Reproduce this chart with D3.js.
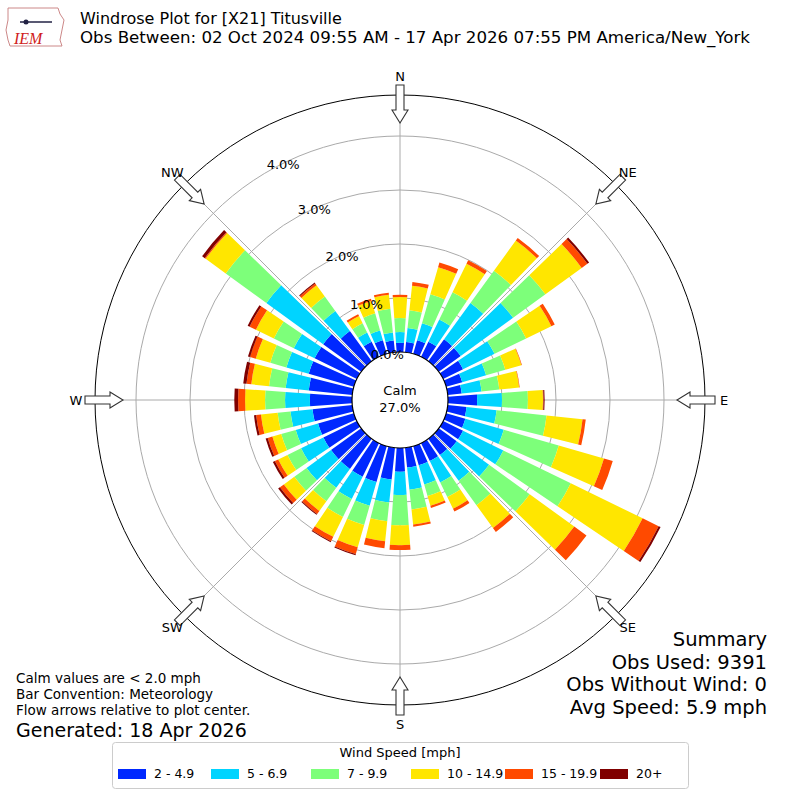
<!DOCTYPE html>
<html><head><meta charset="utf-8">
<script src="https://cdn.jsdelivr.net/npm/d3@7"></script>
<style>body{margin:0;background:#fff}svg{font-family:"DejaVu Sans",sans-serif}</style>
</head><body><svg id="c" width="800" height="800"></svg>
<script>
const directions = d3.range(0, 360, 10);
const speedBins = ["2 - 4.9","5 - 6.9","7 - 9.9","10 - 14.9","15 - 19.9","20+"];
const binColors = ["#0028ff","#00d4ff","#7dff7a","#ffe600","#ff4a00","#800000"];
// percent per speed bin, one row per direction (0,10,...,350)
const b1 = [0.17,0.19,0.26,0.31,0.50,0.50,0.41,0.31,0.26,0.54,0.35,0.37,0.41,0.41,0.37,0.37,0.37,0.37,0.44,0.59,0.69,0.69,0.69,0.69,0.69,0.69,0.74,0.78,0.81,0.87,0.87,0.87,0.69,0.31,0.26,0.22];
const b2 = [0.20,0.26,0.33,0.46,0.83,1.20,0.65,0.46,0.37,0.46,0.56,0.74,0.83,0.74,0.59,0.44,0.37,0.41,0.43,0.43,0.46,0.46,0.43,0.56,0.46,0.43,0.41,0.46,0.43,0.43,0.43,1.30,0.46,0.19,0.19,0.15];
const b3 = [0.26,0.33,0.56,0.56,0.74,0.74,0.65,0.37,0.33,0.48,0.93,1.06,1.39,0.93,0.56,0.30,0.22,0.37,0.56,0.35,0.37,0.37,0.31,0.28,0.28,0.28,0.24,0.37,0.31,0.31,0.41,0.93,0.33,0.19,0.33,0.44];
const b4 = [0.39,0.46,0.52,0.59,0.69,0.83,0.52,0.31,0.37,0.28,0.67,0.87,1.48,1.02,0.52,0.24,0.19,0.28,0.37,0.37,0.43,0.41,0.22,0.24,0.19,0.17,0.31,0.37,0.33,0.28,0.37,0.46,0.26,0.15,0.24,0.26];
const b5 = [0.04,0.07,0.09,0.07,0.06,0.13,0.07,0.01,0.01,0.01,0.06,0.17,0.33,0.28,0.09,0.06,0.04,0.04,0.09,0.13,0.13,0.09,0.07,0.09,0.07,0.09,0.09,0.13,0.09,0.11,0.13,0.02,0.04,0.04,0.04,0.04];
const b6 = [0,0,0,0,0,0.04,0,0,0,0.02,0,0,0.04,0,0,0,0,0,0,0,0.02,0.02,0.02,0.04,0.04,0.04,0.04,0.07,0.06,0.04,0.04,0.06,0.02,0,0,0];
const bins = [b1,b2,b3,b4,b5,b6];
const ringTicks = [0,1,2,3,4];
const compass = [["N",0],["NE",45],["E",90],["SE",135],["S",180],["SW",225],["W",270],["NW",315]];

const svg = d3.select("#c");
const cx = 400, cy = 400, calmR = 48, outerR = 305;
const r = d3.scaleLinear().domain([0,1]).range([calmR, calmR+54]);
const g = svg.append("g").attr("transform",`translate(${cx},${cy})`);

g.selectAll("circle.ring").data(ringTicks.slice(1)).join("circle")
 .attr("r", d=>r(d)).attr("fill","none").attr("stroke","#aaa").attr("stroke-width",1);
compass.forEach(([n,a])=>{
  const t=a*Math.PI/180;
  g.append("line").attr("x1",calmR*Math.sin(t)).attr("y1",-calmR*Math.cos(t))
   .attr("x2",outerR*Math.sin(t)).attr("y2",-outerR*Math.cos(t)).attr("stroke","#aaa");
});

const arc = d3.arc();
const hw = 4*Math.PI/180;
directions.forEach((dir,i)=>{
  let acc=0;
  const t=dir*Math.PI/180;
  bins.forEach((b,k)=>{
    const v=b[i]; if(v<=0){return;}
    g.append("path").attr("d",arc({innerRadius:r(acc),outerRadius:r(acc+v),startAngle:t-hw,endAngle:t+hw}))
     .attr("fill",binColors[k]);
    acc+=v;
  });
});

g.append("circle").attr("r",outerR).attr("fill","none").attr("stroke","#000");
g.append("circle").attr("r",calmR).attr("fill","#fff").attr("stroke","#000").attr("stroke-width",1.2);
g.append("text").attr("y",-5).attr("text-anchor","middle").attr("font-size",13).text("Calm");
g.append("text").attr("y",12).attr("text-anchor","middle").attr("font-size",13).text("27.0%");

ringTicks.forEach(v=>{
  const a=-(19+2*v)*Math.PI/180, rr=r(v);
  g.append("text").attr("x",rr*Math.sin(a)+3).attr("y",-rr*Math.cos(a)).attr("dy","0.35em")
   .attr("text-anchor","middle").attr("font-size",13).text(v.toFixed(1)+"%");
});

compass.forEach(([n,a])=>{
  g.append("path").attr("transform",`rotate(${a}) translate(0,${-outerR})`)
   .attr("d","M-4,-10 L4,-10 L4,15 L8,15 L0,28 L-8,15 L-4,15 Z")
   .attr("fill","#fff").attr("stroke","#333").attr("stroke-width",1.1);
  const t=a*Math.PI/180, lr = (a%90===0)?324:322;
  g.append("text").attr("x",lr*Math.sin(t)).attr("y",-lr*Math.cos(t)).attr("dy","0.35em")
   .attr("text-anchor","middle").attr("font-size",13).text(n);
});

svg.append("text").attr("x",80).attr("y",24).attr("font-size",16).text("Windrose Plot for [X21] Titusville");
svg.append("text").attr("x",80).attr("y",43).attr("font-size",16).attr("textLength",670).attr("lengthAdjust","spacingAndGlyphs").text("Obs Between: 02 Oct 2024 09:55 AM - 17 Apr 2026 07:55 PM America/New_York");
const lg=svg.append("g");
lg.append("path").attr("d","M8,8 L58,8 L60,14 L64,20 L62,30 L60,40 L62,46 L10,46 L8,40 L6,30 L8,20 Z")
  .attr("fill","#fff").attr("stroke","#c88").attr("stroke-width",1);
lg.append("text").attr("x",14).attr("y",44).attr("font-size",16).attr("font-style","italic")
  .attr("font-family","Liberation Serif, serif").attr("fill","#d02020").text("IEM");
lg.append("line").attr("x1",20).attr("y1",22).attr("x2",52).attr("y2",22).attr("stroke","#224").attr("stroke-width",1.5);
lg.append("circle").attr("cx",26).attr("cy",22).attr("r",2.5).attr("fill","#224");

["Calm values are < 2.0 mph","Bar Convention: Meteorology","Flow arrows relative to plot center."].forEach((s,i)=>{
  svg.append("text").attr("x",16).attr("y",683+i*16).attr("font-size",13.5).text(s);
});
svg.append("text").attr("x",16).attr("y",737).attr("font-size",19).text("Generated: 18 Apr 2026");
["Summary","Obs Used: 9391","Obs Without Wind: 0","Avg Speed: 5.9 mph"].forEach((s,i)=>{
  svg.append("text").attr("x",767).attr("y",646+i*22.5).attr("text-anchor","end").attr("font-size",19.5).text(s);
});

svg.append("rect").attr("x",112.5).attr("y",742.5).attr("width",576).attr("height",46).attr("rx",3)
  .attr("fill","#fff").attr("stroke","#ccc");
svg.append("text").attr("x",400).attr("y",757).attr("text-anchor","middle").attr("font-size",13).text("Wind Speed [mph]");
const lx=[118,211,311,411,505,600];
speedBins.forEach((s,i)=>{
  svg.append("rect").attr("x",lx[i]).attr("y",769).attr("width",28).attr("height",10).attr("fill",binColors[i]);
  svg.append("text").attr("x",lx[i]+36).attr("y",778).attr("font-size",12.5).text(s);
});
</script></body></html>
